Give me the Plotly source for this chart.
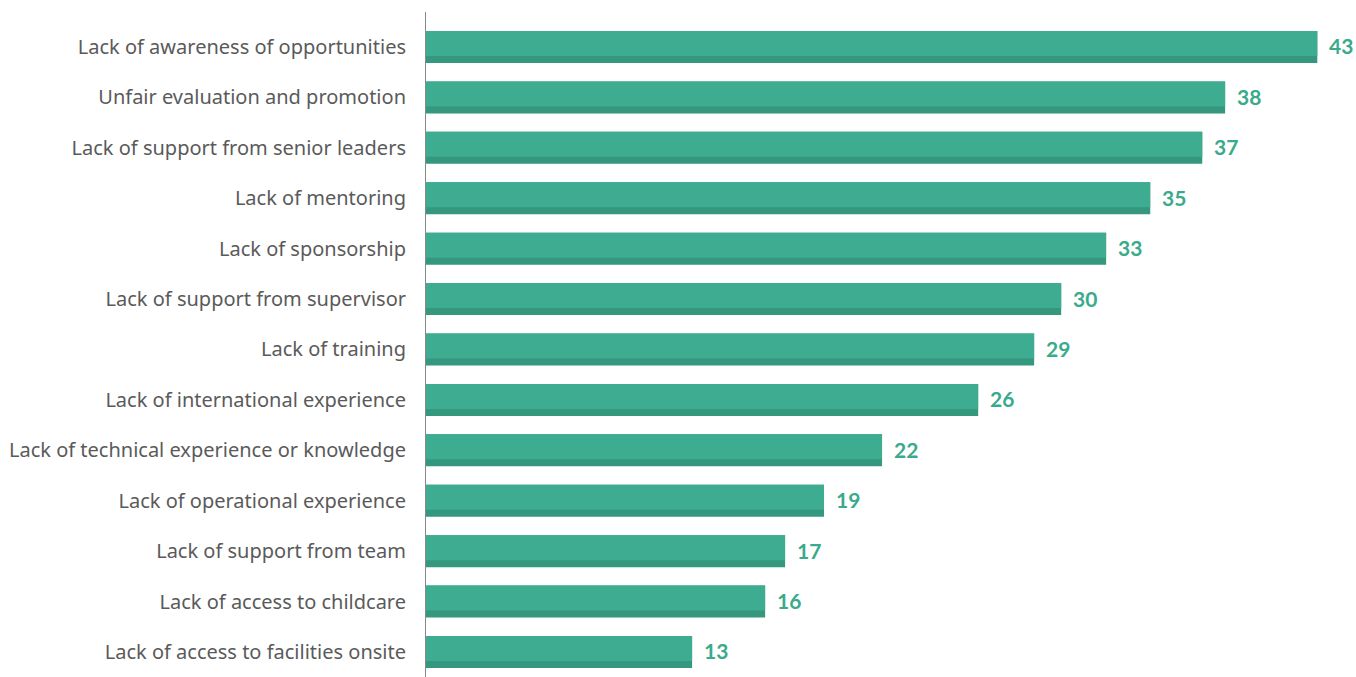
import plotly.graph_objects as go

categories = [
    "Lack of awareness of opportunities",
    "Unfair evaluation and promotion",
    "Lack of support from senior leaders",
    "Lack of mentoring",
    "Lack of sponsorship",
    "Lack of support from supervisor",
    "Lack of training",
    "Lack of international experience",
    "Lack of technical experience or knowledge",
    "Lack of operational experience",
    "Lack of support from team",
    "Lack of access to childcare",
    "Lack of access to facilities onsite",
]
values = [42.84, 38.41, 37.31, 34.81, 32.69, 30.53, 29.23, 26.54, 21.92, 19.13, 17.26, 16.30, 12.79]
value_labels = ["43", "38", "37", "35", "33", "30", "29", "26", "22", "19", "17", "16", "13"]

light = "#3dac91"
dark = "#35977e"

fig = go.Figure()
fig.add_trace(go.Bar(
    y=categories, x=values, orientation="h",
    marker=dict(color=dark, line=dict(width=0)),
    width=0.635, offset=-0.317,
    hoverinfo="skip",
))
fig.add_trace(go.Bar(
    y=categories, x=values, orientation="h",
    marker=dict(color=light, line=dict(width=0)),
    width=0.496, offset=-0.317,
    hoverinfo="skip",
))
for c, v, t in zip(categories, values, value_labels):
    fig.add_annotation(
        x=v, y=c, text="<b>%s</b>" % t, showarrow=False,
        xanchor="left", yanchor="middle", xshift=10, yshift=1,
        font=dict(family="Lato", size=21, color="#3aaa8c"),
    )
fig.update_layout(
    width=1356, height=677,
    margin=dict(l=426, r=0, t=12, b=0),
    barmode="overlay",
    showlegend=False,
    plot_bgcolor="white", paper_bgcolor="white",
    font=dict(family="Noto Sans", color="#5a5a5a"),
)
fig.update_xaxes(range=[0, 44.7], visible=False, showgrid=False, zeroline=False, automargin=False)
fig.update_yaxes(
    type="category", range=[12.496, -0.694],
    showline=True, linecolor="#888888", linewidth=1,
    showgrid=False, zeroline=False, ticks="",
    ticklabelstandoff=15, automargin=False,
    tickfont=dict(family="Noto Sans", size=20, color="#5a5a5a"),
)
fig.write_html(
    "out.html",
    config={"displayModeBar": False},
    post_script="document.body.style.margin='0';document.body.style.overflow='hidden';",
)
